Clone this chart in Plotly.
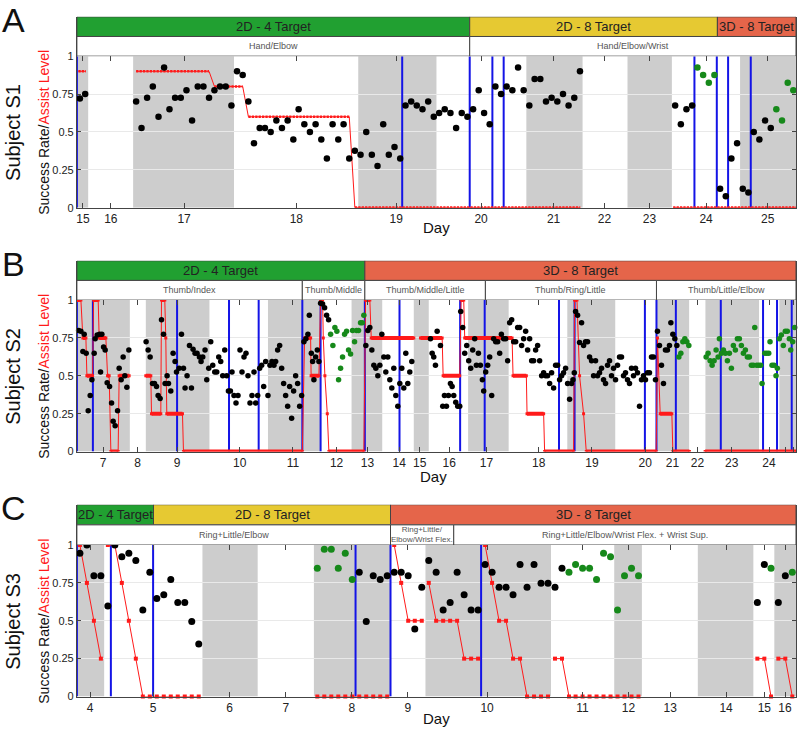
import plotly.graph_objects as go

# ---------------- DATA (x = session position along each panel's time axis, 0..720) ----------------
# Panel A (Subject S1)
A_day_pos = [6, 34, 107.3, 219.7, 319.7, 404.7, 477.3, 528.3, 573.3, 630, 691.7]
A_day_lbl = ["15", "16", "17", "18", "19", "20", "21", "22", "23", "24", "25"]
A_phase_start = [0, 393.3, 641.3]
A_phase_end = [393.3, 641.3, 720]
A_phase_lbl = ["2D - 4 Target", "2D - 8 Target", "3D - 8 Target"]
A_joint_start = [0, 393.3]
A_joint_end = [393.3, 720]
A_joint_lbl = ["Hand/Elbow", "Hand/Elbow/Wrist"]
A_gray_start = [0, 56.3, 281.7, 450, 551.3, 664]
A_gray_end = [11.3, 157.3, 360, 506.3, 595.7, 720]
A_blue = [0, 325.7, 393.3, 416, 427.3, 618.3, 640.7, 652, 674.7]
A_black_x = [3, 8.3, 59.3, 64.7, 70.3, 76, 81.7, 87.3, 92.7, 98.3,
             104, 109.7, 115.3, 121, 126.7, 132.3, 137.7, 143.3, 149, 154.7,
             160.3, 166, 171.7, 177.3, 183, 188.3, 194, 199.7, 205.3, 211,
             216.7, 222, 227.7, 233.3, 239, 244.7, 250.3, 256, 261.7, 267,
             272.7, 278.3, 284, 289.7, 295.3, 301, 306.7, 312.3, 318, 323.7,
             329, 334.7, 340.3, 346, 351.7, 357.3, 362.7, 368.3, 374, 379.7,
             385.3, 391, 396.7, 402.3, 407.7, 413.3, 419, 424.7, 430.3, 436,
             441.7, 447.3, 453, 458.3, 464, 469.7, 475.3, 481, 486.7, 492.3,
             498, 503.7, 599, 604.7, 610.3, 616, 644, 649.7, 655.3, 661,
             666.7, 672.3, 677.7, 683.3, 689, 694.7]
A_black_y = [0.72, 0.75, 0.70, 0.525, 0.725, 0.80, 0.60, 0.925, 0.65, 0.725,
             0.725, 0.775, 0.575, 0.80, 0.80, 0.725, 0.775, 0.80, 0.80, 0.675,
             0.90, 0.875, 0.70, 0.425, 0.525, 0.525, 0.50, 0.575, 0.525, 0.575,
             0.45, 0.65, 0.55, 0.50, 0.55, 0.45, 0.325, 0.55, 0.45, 0.55,
             0.325, 0.375, 0.35, 0.50, 0.35, 0.275, 0.55, 0.35, 0.40, 0.325,
             0.675, 0.70, 0.675, 0.65, 0.70, 0.60, 0.625, 0.65, 0.625, 0.525,
             0.625, 0.60, 0.65, 0.775, 0.625, 0.55, 0.80, 0.75, 0.80, 0.775,
             0.925, 0.775, 0.675, 0.85, 0.85, 0.70, 0.725, 0.70, 0.75, 0.675,
             0.725, 0.90, 0.675, 0.55, 0.65, 0.675, 0.125, 0.075, 0.325, 0.425,
             0.125, 0.10, 0.50, 0.45, 0.575, 0.525]
A_green_x = [621.3, 627, 632.7, 638.3, 700.3, 706, 711.7, 717.3]
A_green_y = [0.925, 0.875, 0.825, 0.875, 0.65, 0.575, 0.825, 0.775]
A_assist_x = [1.5, 9, None, 59.3, 132.3, 137.7, 166, 171.7, 272.7, 278.3, 504, None, 597, 720]
A_assist_y = [0.9, 0.9, None, 0.9, 0.9, 0.8, 0.8, 0.6, 0.6, 0, 0, None, 0, 0]

# Panel B (Subject S2)
B_day_pos = [26.3, 60.7, 100.3, 163, 216.3, 260, 291, 322.7, 343.3, 372.7,
             410, 462.3, 515.7, 569, 596.3, 621.3, 655.7, 693, 709, 717.3]
B_day_lbl = ["7", "8", "9", "10", "11", "12", "13", "14", "15", "16",
             "17", "18", "19", "20", "21", "22", "23", "24", "", "26"]
B_phase_start = [0, 288.3]
B_phase_end = [288.3, 720]
B_phase_lbl = ["2D - 4 Target", "3D - 8 Target"]
B_joint_start = [0, 225.7, 288.3, 409, 580.3]
B_joint_end = [225.7, 288.3, 409, 580.3, 720]
B_joint_lbl = ["Thumb/Index", "Thumb/Middle", "Thumb/Middle/Little", "Thumb/Ring/Little", "Thumb/Little/Elbow"]
B_gray_start = [0, 69, 191.3, 275, 337.3, 391.7, 491, 580.7, 629.3, 703.3]
B_gray_end = [53, 132.7, 244, 305.7, 352.3, 432.3, 539, 613, 683, 720]
B_blue = [0, 16, 100.3, 152.3, 182, 225.7, 244, 288.3, 323, 383.7,
          408.3, 482.7, 498.3, 568.7, 580.3, 599.7, 644.7, 687, 701, 715.7]
B_black_x = [1.7, 4, 6, 7.3, 9.3, 11.3, 13.3, 15, 17.3, 18.3,
             20.3, 22.7, 23.7, 25, 26.7, 28.3, 30.3, 32.7, 34.7, 36.3,
             38.3, 40.7, 42.3, 44.3, 46.3, 48, 50, 52,
             69.3, 71.3, 73.3, 75.7, 77.7, 79.7, 81.3, 83.3, 84.7, 86.7,
             88.3, 90.3, 91.7, 94, 96.3, 98.3, 99.7, 102.3, 104.7, 106.7,
             108.3, 110.3, 112.7, 114.7, 116.3, 118.3, 120.3, 122.7, 124.3, 126,
             128.3, 130, 132, 134, 136, 138, 140, 142, 144, 146,
             148, 150, 151.7, 153.7, 155.3, 157.3, 159.3, 161.3, 163.3, 165.3,
             167.3, 169.3, 171.3, 173.3, 175.3, 177.3, 179, 181, 183, 185,
             187, 189, 191.3, 193.3, 195.3, 197.3, 199, 201, 203, 205,
             207, 209, 211, 213, 215, 217, 219, 221, 223, 225,
             227.3, 229.3, 231.3, 232.7, 234.7, 236, 237.3, 239, 240.7, 242.3,
             244, 246, 248, 250, 252,
             289.3, 291.3, 293.3, 295.3, 297.3, 299.3, 301.3, 303.3, 305.3, 307.3,
             309.3, 311.3, 313.3, 315.3, 317.3, 319.3, 321.3, 323.3, 325.3, 327.3,
             329.3, 331.3, 333.3, 335.3,
             354, 355.7, 357.3, 359, 360.7, 364, 366.3, 368, 370, 372,
             374, 375.7, 377.3, 379.3, 381.3, 383.3, 384.3, 386.3, 388.3, 390.3,
             392.3, 394.3, 396.3, 398.3, 400, 402, 404, 406, 407.3, 409.3,
             411.3, 413.3, 415.3, 417.3, 419.3, 421.3, 423.3, 425, 427.3, 429.3,
             431.3, 433.3, 435.3, 437.3, 439.3, 441.3, 443.3, 445.3, 447.3, 449.3,
             451.3, 453.3, 455.3, 457.3, 459.3, 461.3, 463.3, 465.3, 467.3, 469.3,
             471.3, 473.3, 475.3, 477.3, 479.3, 481.3, 483.3, 485.3, 487.3, 489.3,
             491.3, 493.3, 495.3, 496.7, 498, 499.3, 501.3, 503.3, 505.3, 507.3,
             509.3, 511.3, 513.3, 515.3, 517.3, 519.3, 521.3, 523.3, 525.3, 527.3,
             529.3, 531.3, 533.3, 535.3, 537.3, 539.3, 541.3, 543.3, 545.3, 547.3,
             549.3, 551.3, 553.3, 555.3, 557.3, 559.3, 561.3, 563.3, 565.3, 567.3,
             569.3, 571.3, 573.3, 575.3, 577.3, 579.3,
             581.3, 583.3, 585.3, 587.3, 589.3, 591.3, 593.3, 594.7, 596.7, 598.7, 600.7]
B_black_y = [0.80, 0.795, 0.66, 0.775, 0.65, 0.27, 0.37, 0.475, 0.65, 0.745,
             0.77, 0.775, 0.525, 0.775, 0.69, 0.67, 0.455, 0.43, 0.32, 0.20,
             0.17, 0.27, 0.55, 0.475, 0.625, 0.50, 0.425, 0.67,
             0.725, 0.67, 0.625, 0.45, 0.45, 0.43, 0.37, 0.35, 0.87, 0.775,
             0.45, 0.50, 0.45, 0.40, 0.65, 0.595, 0.525, 0.55, 0.775, 0.55,
             0.42, 0.50, 0.70, 0.42, 0.675, 0.65, 0.65, 0.625, 0.595, 0.625,
             0.67, 0.475, 0.55, 0.725, 0.57, 0.525, 0.525, 0.625, 0.595, 0.50,
             0.67, 0.50, 0.40, 0.40, 0.525, 0.37, 0.32, 0.37, 0.67, 0.525,
             0.625, 0.65, 0.50, 0.32, 0.37, 0.525, 0.32, 0.37, 0.55, 0.57,
             0.43, 0.595, 0.37, 0.57, 0.595, 0.57, 0.595, 0.67, 0.70, 0.55,
             0.45, 0.37, 0.30, 0.43, 0.22, 0.40, 0.50, 0.45, 0.30, 0.37,
             0.725, 0.745, 0.775, 0.90, 0.65, 0.595, 0.475, 0.625, 0.67, 0.595,
             0.98, 0.975, 0.95, 0.90, 0.87,
             0.70, 0.80, 0.82, 0.67, 0.57, 0.55, 0.50, 0.57, 0.775, 0.625,
             0.525, 0.625, 0.475, 0.42, 0.55, 0.37, 0.30, 0.45, 0.55, 0.42,
             0.65, 0.45, 0.525, 0.595,
             0.745, 0.65, 0.625, 0.57, 0.795, 0.70, 0.30, 0.37, 0.30, 0.37,
             0.45, 0.43, 0.37, 0.325, 0.30, 0.30, 0.925, 0.82, 0.65, 0.70,
             0.60, 0.55, 0.67, 0.745, 0.57, 0.65, 0.57, 0.475, 0.40, 0.525,
             0.57, 0.625, 0.37, 0.745, 0.725, 0.725, 0.65, 0.775, 0.745, 0.745,
             0.60, 0.85, 0.87, 0.725, 0.725, 0.82, 0.82, 0.70, 0.745, 0.795,
             0.67, 0.745, 0.60, 0.60, 0.67, 0.70, 0.60, 0.50, 0.52, 0.50,
             0.50, 0.45, 0.52, 0.42, 0.57, 0.57, 0.475, 0.50, 0.52, 0.55,
             0.45, 0.345, 0.45, 0.475, 0.52, 0.925, 0.90, 0.72, 0.85, 0.70,
             0.725, 0.725, 0.625, 0.60, 0.50, 0.60, 0.50, 0.52, 0.55, 0.475,
             0.45, 0.57, 0.60, 0.50, 0.55, 0.475, 0.57, 0.625, 0.625, 0.50,
             0.52, 0.475, 0.45, 0.55, 0.50, 0.55, 0.52, 0.30, 0.475, 0.50,
             0.475, 0.52, 0.52, 0.625, 0.625, 0.475,
             0.795, 0.70, 0.57, 0.45, 0.67, 0.67, 0.70, 0.85, 0.775, 0.745, 0.70]
B_green_x = [254, 256.3, 258.3, 260.3, 262, 264, 266, 268, 270, 272,
             274, 276, 278, 280, 282, 284, 285.7, 287.3,
             602.7, 604.7, 606.7, 608.7, 610.7, 612.7,
             630, 632, 634, 636, 638, 640, 642, 643.3, 645.3, 647.3,
             649.3, 651.3, 653.3, 655.3, 657.3, 659.3, 661.3, 663.3, 665.3, 667.3,
             669.3, 671.3, 673.3, 675.3, 677.3, 678.7, 680.7, 682.7, 684.7, 686,
             688.7, 690.7, 692.7, 694, 696, 698, 700, 701.3, 703.3, 705.3,
             707.3, 709.3, 711.3, 713.3, 714.7, 716.7, 718.7]
B_green_y = [0.775, 0.70, 0.82, 0.795, 0.475, 0.55, 0.625, 0.775, 0.795, 0.67,
             0.645, 0.80, 0.725, 0.80, 0.80, 0.85, 0.85, 0.90,
             0.625, 0.65, 0.725, 0.745, 0.725, 0.70,
             0.625, 0.65, 0.60, 0.57, 0.60, 0.67, 0.625, 0.745, 0.65, 0.67,
             0.65, 0.60, 0.65, 0.55, 0.70, 0.67, 0.745, 0.745, 0.70, 0.65,
             0.67, 0.625, 0.625, 0.57, 0.57, 0.82, 0.57, 0.57, 0.57, 0.45,
             0.65, 0.65, 0.65, 0.725, 0.57, 0.57, 0.50, 0.55, 0.745, 0.77,
             0.70, 0.795, 0.795, 0.745, 0.67, 0.725, 0.82]
B_assist_x = [0, 4, 6, 9, 10, 15.7, 16.7, 21.3, 22.3, 29, 30.7, 32.3, 34, 41.3, 42.3, 52.3, None,
              69, 74, 74.7, 84, 84.7, 88, 89, 90, 105.7, 106.7,
              225.7, 228, 234, 234.5, 242.3, 244, 246, 246.7, 248.3, 250.7,
              252.3, 287.3, 289, 293.3, 294.7, 337.3, None,
              344, 365.7, 366.7, 383.3, 384.7, 387.3, 388.3, 435.7, 436.7, 450,
              450.7, 467.3, 468.3, 497.3, 498.3, 500.7, 503.3, 507.3, 510, 580,
              581.3, 584, 595.7, 596.7, 613.3, None, 629, 720]
B_assist_y = [1, 1, .75, .75, .5, .5, 1, 1, .75, .75, .5, .5, 0, 0, .5, .5, None,
              .5, .5, .25, .25, 1, 1, .75, .25, .25, 0,
              0, .75, .75, .5, .5, 1, 1, .75, .5, .25,
              0, 0, 1, 1, .75, .75, None,
              .75, .75, .5, .5, 1, 1, .75, .75, .5, .5,
              .25, .25, 0, 0, 1, 1, .5, .25, 0, 0,
              .75, .25, .25, 0, 0, None, 0, 0]

# Panel C (Subject S3)
C_day_pos = [13.3, 76.3, 153, 209.3, 275.3, 331.3, 410.7, 506.3, 552.3, 594, 650, 688.3, 709]
C_day_lbl = ["4", "5", "6", "7", "8", "9", "10", "11", "12", "13", "14", "15", "16"]
C_phase_start = [0, 76.7, 314]
C_phase_end = [76.7, 314, 720]
C_phase_lbl = ["2D - 4 Target", "2D - 8 Target", "3D - 8 Target"]
C_joint_start = [0, 314, 377.3]
C_joint_end = [314, 377.3, 720]
C_joint_lbl = ["Ring+Little/Elbow", "Ring+Little/<br>Elbow/Wrist Flex.",
               "Ring+Little/Elbow/Wrist Flex. + Wrist Sup."]
C_gray_start = [0, 125.7, 237.3, 349, 538, 621.7, 698.3]
C_gray_end = [27.3, 181, 314, 474.7, 565.7, 677.3, 720]
C_blue = [0, 34, 76.3, 279, 314, 404.7]
C_black_x = [3, 10, 17, 24, 31, 38, 45, 52, 59, 66,
             73, 80, 87, 94, 101, 108, 115, 122,
             282.7, 289.7, 296.7, 303.7, 310.7, 317.7, 324.7, 331.7, 338.3, 345.3,
             352.3, 359.7, 366.7, 373.7, 380.7, 387.7, 394.7, 401.7, 408.7, 415.7,
             422.7, 429.7, 436.7, 443.7, 450.7, 457.7, 464.7, 471.7, 478.7, 485.7,
             681.3, 688.3, 702.3, 709.3]
C_black_y = [0.946, 1.0, 0.797, 0.797, 0.597, 1.0, 0.922, 0.946, 0.898, 0.571,
             0.82, 0.647, 0.671, 0.773, 0.621, 0.621, 0.496, 0.346,
             0.82, 0.496, 0.797, 0.773, 0.797, 0.82, 0.82, 0.797, 0.446, 0.721,
             0.898, 0.82, 0.571, 0.621, 0.82, 0.671, 0.571, 0.571, 0.872, 0.82,
             0.721, 0.721, 0.671, 0.872, 0.721, 0.872, 0.747, 0.747, 0.721, 0.846,
             0.621, 0.872, 0.621, 0.797]
C_green_x = [240.7, 247.7, 254.7, 261.7, 268.7, 275.7,
             492.7, 499.3, 506.3, 513.3, 520.3, 527.3, 534.3, 541.3, 548.3, 555.3, 562.3,
             695, 716.3]
C_green_y = [0.846, 0.972, 0.972, 0.846, 0.946, 0.773,
             0.82, 0.872, 0.846, 0.846, 0.773, 0.946, 0.922, 0.571, 0.797, 0.846, 0.797,
             0.846, 0.82]
C_assist_x = [3, 10, 17, 24, None,
              31, 38, 45, 52, 59, 66, 73, 80, 87, 94, 101, 108, 115, 122, None,
              240.7, 247.7, 254.7, 261.7, 268.7, 275.7, 282.7, 289.7, 296.7, 303.7, 310.7, None,
              317.7, 324.7, 331.7, 338.3, 345.3, None,
              352.3, 359.7, 366.7, 373.7, 380.7, 387.7, 394.7, 401.7, None,
              408.7, 415.7, 422.7, 429.7, 436.7, 443.7, 450.7, 457.7, 464.7, 471.7, None,
              478.7, 485.7, 492.7, 499.3, 506.3, 513.3, 520.3, 527.3, 534.3, 541.3, 548.3, 555.3, 562.3, None,
              681.3, 688.3, 695, None,
              702.3, 709.3, 716.3]
C_assist_y = [1, .75, .5, .25, None,
              1, 1, .75, .5, .25, 0, 0, 0, 0, 0, 0, 0, 0, 0, None,
              0, 0, 0, 0, 0, 0, 0, 0, 0, 0, 0, None,
              1, .75, .5, .5, .5, None,
              .75, .5, .5, .5, .5, .25, .25, .25, None,
              1, .75, .5, .5, .25, .25, 0, 0, 0, 0, None,
              .25, .25, 0, 0, 0, 0, 0, 0, 0, 0, 0, 0, 0, None,
              .25, .25, 0, None,
              .25, .25, 0]

# ---------------- STYLE / LAYOUT ----------------
W, H = 800, 733
X0, X1 = 76, 796
HEAD_TOP = [11, 259, 507]
PLOT_TOP = [51, 299, 548]
PLOT_BOT = [205, 453, 702]
DAY_OFFSET = [20, 25, 22]
DAY_X = [436, 433, 436]
PHASE_COLORS = {"2D - 4 Target": "#21a031", "2D - 8 Target": "#e6c932", "3D - 8 Target": "#e5654a"}
GRAY = "#cdcdcd"
BLUE = "#1414e6"
RED = "#ff1a1a"
GREEN = "#16891a"
FONT = "Liberation Sans, Arial, sans-serif"


def py(v):
    return 1 - v / H


def flat_parts(xs, ys):
    fx, fy = [], []
    for i in range(len(xs) - 1):
        if xs[i] is None or xs[i + 1] is None:
            continue
        if ys[i] == ys[i + 1]:
            fx += [xs[i], xs[i + 1], None]
            fy += [ys[i], ys[i + 1], None]
    return fx, fy


panels = [
    dict(letter="A", subj="Subject S1", day_pos=A_day_pos, day_lbl=A_day_lbl,
         ps=A_phase_start, pe=A_phase_end, pl=A_phase_lbl,
         js=A_joint_start, je=A_joint_end, jl=A_joint_lbl,
         gs=A_gray_start, ge=A_gray_end, blue=A_blue,
         bx=A_black_x, by=A_black_y, gx=A_green_x, gy=A_green_y,
         ax=A_assist_x, ay=A_assist_y, style="dotted", msize=6.5),
    dict(letter="B", subj="Subject S2", day_pos=B_day_pos, day_lbl=B_day_lbl,
         ps=B_phase_start, pe=B_phase_end, pl=B_phase_lbl,
         js=B_joint_start, je=B_joint_end, jl=B_joint_lbl,
         gs=B_gray_start, ge=B_gray_end, blue=B_blue,
         bx=B_black_x, by=B_black_y, gx=B_green_x, gy=B_green_y,
         ax=B_assist_x, ay=B_assist_y, style="thick", msize=5.5),
    dict(letter="C", subj="Subject S3", day_pos=C_day_pos, day_lbl=C_day_lbl,
         ps=C_phase_start, pe=C_phase_end, pl=C_phase_lbl,
         js=C_joint_start, je=C_joint_end, jl=C_joint_lbl,
         gs=C_gray_start, ge=C_gray_end, blue=C_blue,
         bx=C_black_x, by=C_black_y, gx=C_green_x, gy=C_green_y,
         ax=C_assist_x, ay=C_assist_y, style="markers", msize=7),
]

fig = go.Figure()
layout = dict(width=W, height=H, margin=dict(l=0, r=0, t=0, b=0),
              paper_bgcolor="white", plot_bgcolor="white", showlegend=False,
              barmode="overlay", font=dict(family=FONT, color="#111"))
shapes, annotations = [], []

for i, p in enumerate(panels):
    n = i + 1
    xa = "x" if n == 1 else f"x{n}"
    ya = "y" if n == 1 else f"y{n}"
    yh = f"y{n + 3}"
    xkey = "xaxis" if n == 1 else f"xaxis{n}"
    ykey = "yaxis" if n == 1 else f"yaxis{n}"
    hkey = f"yaxis{n + 3}"

    layout[xkey] = dict(domain=[X0 / W, X1 / W], range=[0, 720], anchor=ya,
                        tickmode="array", tickvals=p["day_pos"], ticktext=p["day_lbl"],
                        ticks="inside", ticklen=5, tickcolor="#444", mirror="ticks",
                        showline=True, linecolor="#444", linewidth=1,
                        showgrid=False, zeroline=False,
                        tickfont=dict(size=12, color="#222"), fixedrange=True)
    layout[ykey] = dict(domain=[py(PLOT_BOT[i]), py(PLOT_TOP[i])], range=[0, 1], anchor=xa,
                        tickmode="array", tickvals=[0, 0.25, 0.5, 0.75, 1],
                        ticktext=["0", "0.25", "0.5", "0.75", "1"],
                        ticks="inside", ticklen=4, tickcolor="#444", mirror="ticks",
                        showline=True, linecolor="#444", linewidth=1,
                        showgrid=True, gridcolor="#e9e9e9", gridwidth=1, zeroline=False,
                        tickfont=dict(size=11, color="#222"), fixedrange=True)
    layout[hkey] = dict(domain=[py(PLOT_TOP[i]), py(HEAD_TOP[i])], range=[0, 2], anchor=xa,
                        showline=True, mirror=True, linecolor="#444", linewidth=1,
                        showticklabels=False, ticks="", showgrid=False, zeroline=False,
                        fixedrange=True)

    # shaded sessions
    for s, e in zip(p["gs"], p["ge"]):
        shapes.append(dict(type="rect", xref=xa, yref=ya, x0=s, x1=e, y0=0, y1=1,
                           fillcolor=GRAY, line=dict(width=0), layer="below"))

    # header bars
    fig.add_trace(go.Bar(orientation="h", y=[1.5] * len(p["ps"]),
                         x=[e - s for s, e in zip(p["ps"], p["pe"])], base=p["ps"], width=1,
                         marker=dict(color=[PHASE_COLORS[l] for l in p["pl"]],
                                     line=dict(color="#444", width=1)),
                         xaxis=xa, yaxis=yh, hoverinfo="skip"))
    fig.add_trace(go.Bar(orientation="h", y=[0.5] * len(p["js"]),
                         x=[e - s for s, e in zip(p["js"], p["je"])], base=p["js"], width=1,
                         marker=dict(color="white", line=dict(color="#444", width=1)),
                         xaxis=xa, yaxis=yh, hoverinfo="skip"))
    for s, e, l in zip(p["ps"], p["pe"], p["pl"]):
        annotations.append(dict(xref=xa, yref=yh, x=(s + e) / 2, y=1.5, text=l, showarrow=False,
                                font=dict(size=13, color="#222", family=FONT)))
    for s, e, l in zip(p["js"], p["je"], p["jl"]):
        two = "<br>" in l
        annotations.append(dict(xref=xa, yref=yh, x=(s + e) / 2, y=0.5, text=l, showarrow=False,
                                font=dict(size=8 if two else 9, color="#555", family=FONT)))

    # blue session-change lines
    bx, by = [], []
    for v in p["blue"]:
        bx += [v, v, None]
        by += [0, 1, None]
    fig.add_trace(go.Scatter(x=bx, y=by, mode="lines", line=dict(color=BLUE, width=2),
                             xaxis=xa, yaxis=ya, hoverinfo="skip"))

    # assist level
    if p["style"] == "dotted":
        fig.add_trace(go.Scatter(x=p["ax"], y=p["ay"], mode="lines",
                                 line=dict(color=RED, width=1), xaxis=xa, yaxis=ya, hoverinfo="skip"))
        fx, fy = flat_parts(p["ax"], p["ay"])
        fig.add_trace(go.Scatter(x=fx, y=fy, mode="lines",
                                 line=dict(color=RED, width=2.6, dash="2.3px,1.1px"),
                                 xaxis=xa, yaxis=ya, hoverinfo="skip"))
    elif p["style"] == "thick":
        fig.add_trace(go.Scatter(x=p["ax"], y=p["ay"], mode="lines+markers",
                                 line=dict(color=RED, width=1),
                                 marker=dict(color=RED, size=3, symbol="square"),
                                 xaxis=xa, yaxis=ya, hoverinfo="skip"))
        fx, fy = flat_parts(p["ax"], p["ay"])
        fig.add_trace(go.Scatter(x=fx, y=fy, mode="lines",
                                 line=dict(color=RED, width=4),
                                 xaxis=xa, yaxis=ya, hoverinfo="skip"))
    else:
        fig.add_trace(go.Scatter(x=p["ax"], y=p["ay"], mode="lines+markers",
                                 line=dict(color=RED, width=1),
                                 marker=dict(color=RED, size=4, symbol="square"),
                                 cliponaxis=False, xaxis=xa, yaxis=ya, hoverinfo="skip"))

    # success rates
    fig.add_trace(go.Scatter(x=p["bx"], y=p["by"], mode="markers",
                             marker=dict(color="black", size=p["msize"]), cliponaxis=False,
                             xaxis=xa, yaxis=ya, hoverinfo="skip"))
    fig.add_trace(go.Scatter(x=p["gx"], y=p["gy"], mode="markers",
                             marker=dict(color=GREEN, size=p["msize"]), cliponaxis=False,
                             xaxis=xa, yaxis=ya, hoverinfo="skip"))

    # labels
    yc = py((PLOT_TOP[i] + PLOT_BOT[i]) / 2)
    annotations.append(dict(xref="paper", yref="paper", x=13 / W, y=py(HEAD_TOP[i] + 3),
                            text=p["letter"], showarrow=False, font=dict(size=34, color="#111"),
                            xanchor="center", yanchor="middle"))
    annotations.append(dict(xref="paper", yref="paper", x=12 / W, y=yc, text=p["subj"],
                            showarrow=False, textangle=-90, font=dict(size=20, color="#111"),
                            xanchor="center", yanchor="middle"))
    annotations.append(dict(xref="paper", yref="paper", x=43 / W, y=yc,
                            text="Success Rate/<span style='color:#ff1a1a'>Assist Level</span>",
                            showarrow=False, textangle=-90, font=dict(size=14, color="#111"),
                            xanchor="center", yanchor="middle"))
    annotations.append(dict(xref="paper", yref="paper", x=DAY_X[i] / W, y=py(PLOT_BOT[i] + DAY_OFFSET[i]),
                            text="Day", showarrow=False, font=dict(size=15, color="#111"),
                            xanchor="center", yanchor="middle"))

layout["shapes"] = shapes
layout["annotations"] = annotations
fig.update_layout(**layout)
fig.write_html("out.html", config={"displayModeBar": False},
               post_script="document.body.style.margin='0';document.body.style.overflow='hidden';")
